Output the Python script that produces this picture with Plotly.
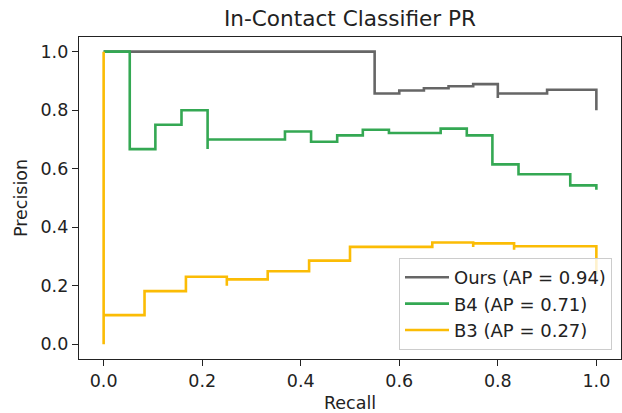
import plotly.graph_objects as go

# ---- data ----
series_names = ["Ours (AP = 0.94)", "B4 (AP = 0.71)", "B3 (AP = 0.27)"]
series_colors = ["#666666", "#34a853", "#fbbc05"]

ours_recall = [0.0, 0.55, 0.60, 0.65, 0.70, 0.75, 0.80, 0.80, 0.90, 1.00, 1.00]
ours_precision = [1.0, 1.0, 0.857, 0.867, 0.875, 0.882, 0.889, 0.842, 0.857, 0.870, 0.800]

b4_recall = [0.0, 0.053, 0.105, 0.158, 0.211, 0.211, 0.368, 0.421, 0.474, 0.526,
             0.579, 0.684, 0.737, 0.789, 0.842, 0.947, 1.0, 1.0]
b4_precision = [1.0, 1.0, 0.667, 0.750, 0.800, 0.667, 0.700, 0.727, 0.692, 0.714,
                0.733, 0.722, 0.737, 0.714, 0.615, 0.581, 0.543, 0.528]

b3_recall = [0.0, 0.0, 0.083, 0.167, 0.25, 0.25, 0.333, 0.417, 0.5, 0.667,
             0.75, 0.75, 0.833, 0.833, 1.0, 1.0]
b3_precision = [1.0, 0.0, 0.100, 0.182, 0.231, 0.200, 0.222, 0.250, 0.286, 0.333,
                0.348, 0.333, 0.345, 0.323, 0.335, 0.240]

tick_vals = [0.0, 0.2, 0.4, 0.6, 0.8, 1.0]
tick_text = ["0.0", "0.2", "0.4", "0.6", "0.8", "1.0"]

title_text = "In-Contact Classifier PR"
x_title = "Recall"
y_title = "Precision"

# ---- figure ----
FONT = "DejaVu Sans"
TXT = "#222222"

fig = go.Figure()
for name, color, rx, py in zip(series_names, series_colors,
                               [ours_recall, b4_recall, b3_recall],
                               [ours_precision, b4_precision, b3_precision]):
    fig.add_trace(go.Scatter(
        x=rx, y=py, mode="lines", name=name,
        line=dict(color=color, width=2.6, shape="vh"),
        hoverinfo="skip",
    ))

axis_common = dict(
    showgrid=False, zeroline=False,
    showline=True, linecolor="#222222", linewidth=1.2, mirror=True,
    ticks="outside", ticklen=6, tickwidth=1.2, tickcolor="#222222",
    tickvals=tick_vals, ticktext=tick_text,
    tickfont=dict(family=FONT, size=17.5, color=TXT),
    automargin=False,
)

fig.update_layout(
    width=622, height=413,
    margin=dict(l=79, r=1, t=37, b=54),
    paper_bgcolor="white", plot_bgcolor="white",
    title=dict(text=title_text, x=0.5, xref="paper", xanchor="center",
               y=1 - 18.5 / 413, yref="container", yanchor="middle",
               font=dict(family=FONT, size=21.6, color=TXT)),
    xaxis=dict(range=[-0.05, 1.05],
               title=dict(text=x_title, standoff=6,
                          font=dict(family=FONT, size=17.5, color=TXT)),
               **axis_common),
    yaxis=dict(range=[-0.05, 1.05],
               title=dict(text=y_title, standoff=8,
                          font=dict(family=FONT, size=17.5, color=TXT)),
               **axis_common),
    legend=dict(x=0.9834, y=0.028, xanchor="right", yanchor="bottom",
                bgcolor="rgba(255,255,255,0.8)", bordercolor="#cccccc",
                borderwidth=1, itemwidth=44,
                font=dict(family=FONT, size=18, color=TXT)),
    showlegend=True,
)

fig.write_html("out.html",
               config={"displayModeBar": False, "staticPlot": True},
               post_script="document.body.style.margin='0';document.body.style.overflow='hidden';")
